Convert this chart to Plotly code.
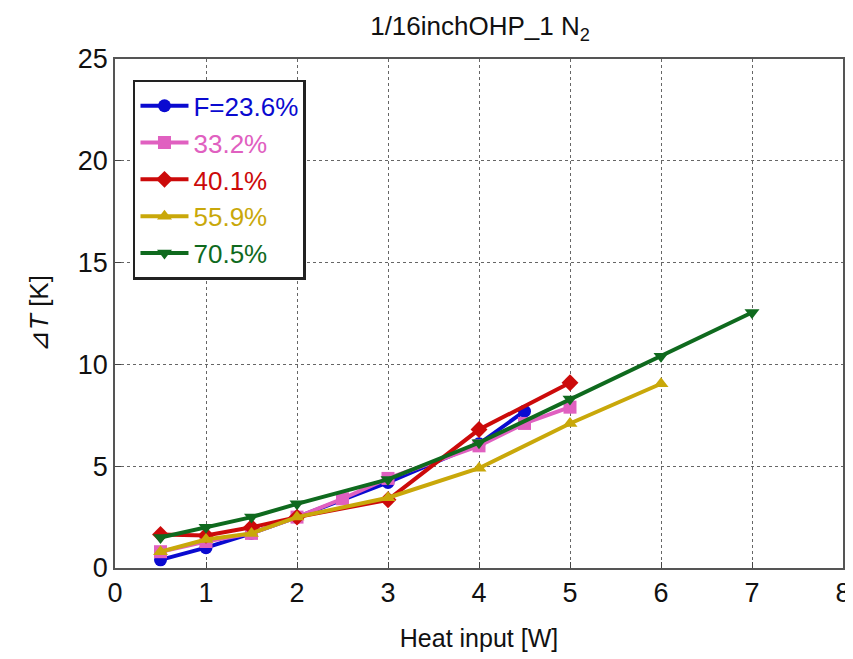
import plotly.graph_objects as go

names = ["F=23.6%", "33.2%", "40.1%", "55.9%", "70.5%"]
colors = ["#0a0ad0", "#e060c0", "#cc0a0a", "#c9a80a", "#0f6a1e"]
symbols = ["circle", "square", "diamond", "triangle-up", "triangle-down"]

x_f236 = [0.5, 1, 1.5, 2, 3, 4, 4.5]
y_f236 = [0.4, 1.0, 1.7, 2.5, 4.2, 6.1, 7.7]
x_f332 = [0.5, 1, 1.5, 2, 2.5, 3, 4, 4.5, 5]
y_f332 = [0.8, 1.3, 1.7, 2.5, 3.4, 4.4, 6.0, 7.1, 7.9]
x_f401 = [0.5, 1, 1.5, 2, 3, 4, 5]
y_f401 = [1.65, 1.6, 2.0, 2.5, 3.35, 6.8, 9.1]
x_f559 = [0.5, 1, 1.5, 2, 3, 4, 5, 6]
y_f559 = [0.8, 1.4, 1.7, 2.5, 3.45, 4.9, 7.1, 9.05]
x_f705 = [0.5, 1, 1.5, 2, 3, 4, 5, 6, 7]
y_f705 = [1.5, 2.0, 2.5, 3.15, 4.35, 6.15, 8.3, 10.4, 12.55]

xs = [x_f236, x_f332, x_f401, x_f559, x_f705]
ys = [y_f236, y_f332, y_f401, y_f559, y_f705]

x_ticks = [0, 1, 2, 3, 4, 5, 6, 7, 8]
y_ticks = [0, 5, 10, 15, 20, 25]

fig = go.Figure()
for i, (n, c, s, x, y) in enumerate(zip(names, colors, symbols, xs, ys)):
    fig.add_trace(go.Scatter(
        x=x, y=y, mode="lines+markers",
        name=f"<span style='color:{c}'>{n}</span>",
        legendgroup=f"g{i}",
        line=dict(color=c, width=4),
        marker=dict(symbol=s, size=13, color=c),
    ))

font = "Liberation Sans, Arial, sans-serif"
axis_common = dict(
    showline=True, linecolor="#555", linewidth=1.5, mirror=True,
    showgrid=True, gridcolor="#666", griddash="dot", gridwidth=1,
    zeroline=False, ticks="inside", ticklen=6, tickcolor="#444",
    tickfont=dict(size=27, color="#111", family=font),
    automargin=False,
)
fig.update_layout(
    width=845, height=651,
    margin=dict(l=107, r=10, t=51, b=91),
    paper_bgcolor="white", plot_bgcolor="white",
    title=dict(text="1/16inchOHP_1 N<sub>2</sub>", x=0.5586, xanchor="center",
               y=0.972, yanchor="middle", font=dict(size=26, color="#111", family=font)),
    xaxis=dict(range=[0, 8], tickvals=x_ticks,
               title=dict(text="Heat input [W]", font=dict(size=25, color="#111", family=font), standoff=22),
               **axis_common),
    yaxis=dict(range=[0, 25], tickvals=y_ticks,
               title=dict(text="⊿<i>T</i> [K]", font=dict(size=26, color="#111", family=font), standoff=22),
               **axis_common),
    legend=dict(x=0.0247, y=0.959, xanchor="left", yanchor="top",
                bgcolor="white", bordercolor="#222", borderwidth=2.5,
                font=dict(size=26, family=font), itemwidth=48, tracegroupgap=0),
    showlegend=True,
)
fig.write_html("out.html")
